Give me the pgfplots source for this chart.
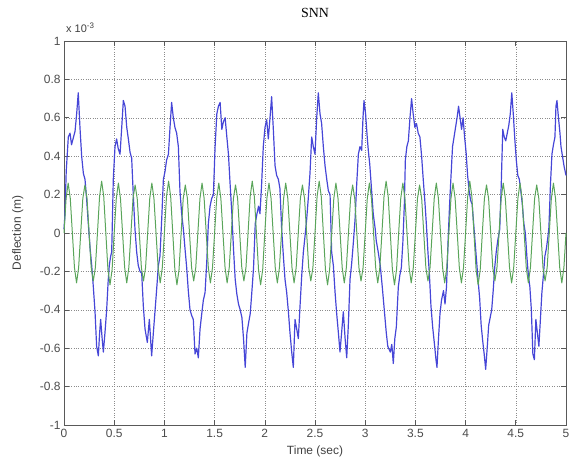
\documentclass[border=0pt]{standalone}
\usepackage{pgfplots}
\pgfplotsset{compat=1.18}
\usepackage{fontspec}
\setmainfont{Liberation Sans}
\newfontfamily\seriffont{Liberation Serif}
\definecolor{mblue}{RGB}{70,70,215}
\definecolor{mgreen}{RGB}{90,165,90}
\begin{document}
\begin{tikzpicture}
\useasboundingbox (-64bp,-41bp) rectangle (506bp,425bp);
\begin{axis}[
  at={(0,0)}, anchor=south west,
  scale only axis, width=502bp, height=384bp,
  xmin=0, xmax=5, ymin=-1, ymax=1, clip=false,
  xtick={0,0.5,1,1.5,2,2.5,3,3.5,4,4.5,5},
  xticklabels={0,0.5,1,1.5,2,2.5,3,3.5,4,4.5,5},
  ytick={-1,-0.8,-0.6,-0.4,-0.2,0,0.2,0.4,0.6,0.8,1},
  yticklabels={-1,-0.8,-0.6,-0.4,-0.2,0,0.2,0.4,0.6,0.8,1},
  tick align=inside, xtick pos=both, ytick pos=both,
  xticklabel pos=left, yticklabel pos=left,
  major tick length=5bp,
  grid=major, grid style={dotted, black!45, line width=0.45pt},
  axis line style={black!65, line width=0.9pt},
  tick style={black!65, line width=0.6pt},
  tick label style={font=\fontsize{12}{14}\selectfont, text=black!70},
  xticklabel style={yshift=-1bp},
  xlabel={Time (sec)}, ylabel={Deflection (m)},
  label style={font=\fontsize{12}{14}\selectfont, text=black!75},
  xlabel style={at={(axis description cs:0.5,-0.07)}, anchor=center},
  ylabel style={at={(axis description cs:-0.092,0.5)}, anchor=center, rotate=0},
  title={\seriffont SNN},
  title style={at={(axis description cs:0.5,1.058)}, anchor=center, font=\fontsize{14}{16}\selectfont},
]
\addplot[mblue, line width=1.2pt, line join=round] coordinates {
(0.000,0.02) (0.010,0.10) (0.022,0.32) (0.043,0.50) (0.060,0.52) (0.075,0.46) (0.095,0.50) (0.110,0.53) (0.126,0.62) (0.142,0.73) (0.159,0.55) (0.176,0.40) (0.193,0.31) (0.209,0.28) (0.225,0.18) (0.242,0.05) (0.260,-0.08) (0.276,-0.17) (0.292,-0.28) (0.309,-0.41) (0.325,-0.59) (0.342,-0.64) (0.355,-0.52) (0.365,-0.45) (0.380,-0.55) (0.392,-0.62) (0.408,-0.52) (0.425,-0.40) (0.440,-0.25) (0.451,-0.17) (0.465,-0.12) (0.475,-0.10) (0.491,0.28)
(0.508,0.45) (0.524,0.49) (0.540,0.44) (0.558,0.41) (0.575,0.55) (0.591,0.69) (0.608,0.66) (0.625,0.55) (0.641,0.49) (0.658,0.42) (0.674,0.39) (0.690,0.20) (0.707,0.02) (0.724,-0.10) (0.740,-0.17) (0.757,-0.20) (0.774,-0.21) (0.790,-0.38) (0.807,-0.50) (0.830,-0.57) (0.850,-0.45) (0.873,-0.64) (0.890,-0.52) (0.906,-0.41) (0.922,-0.30) (0.940,-0.17) (0.956,-0.12) (0.973,0.07) (0.990,0.28)
(1.006,0.32) (1.022,0.38) (1.040,0.41) (1.056,0.55) (1.072,0.68) (1.089,0.60) (1.105,0.55) (1.122,0.52) (1.139,0.45) (1.155,0.22) (1.172,0.10) (1.189,0.02) (1.205,-0.08) (1.222,-0.18) (1.238,-0.30) (1.255,-0.40) (1.272,-0.43) (1.288,-0.45) (1.305,-0.63) (1.322,-0.60) (1.338,-0.65) (1.355,-0.50) (1.372,-0.42) (1.388,-0.35) (1.405,-0.31) (1.422,-0.15) (1.438,0.05) (1.455,0.14) (1.471,0.18) (1.488,0.20)
(1.505,0.45) (1.522,0.62) (1.538,0.66) (1.555,0.68) (1.572,0.54) (1.588,0.58) (1.605,0.60) (1.622,0.50) (1.638,0.41) (1.655,0.25) (1.672,0.10) (1.688,-0.08) (1.705,-0.24) (1.722,-0.32) (1.738,-0.37) (1.755,-0.40) (1.772,-0.44) (1.788,-0.55) (1.805,-0.70) (1.822,-0.52) (1.838,-0.47) (1.855,-0.42) (1.872,-0.30) (1.888,-0.18) (1.905,0.05) (1.922,0.10) (1.938,0.14)
(1.952,0.10) (1.968,0.25) (1.985,0.45) (2.002,0.55) (2.019,0.59) (2.035,0.49) (2.052,0.60) (2.068,0.71) (2.085,0.54) (2.102,0.35) (2.118,0.30) (2.135,0.28) (2.151,0.23) (2.168,0.02) (2.185,-0.12) (2.201,-0.24) (2.218,-0.31) (2.235,-0.41) (2.251,-0.52) (2.268,-0.62) (2.284,-0.70) (2.301,-0.45) (2.318,-0.50) (2.334,-0.55) (2.351,-0.38) (2.368,-0.22) (2.384,-0.10) (2.400,-0.02) (2.417,0.07) (2.433,0.18)
(2.450,0.31) (2.467,0.50) (2.483,0.45) (2.500,0.41) (2.517,0.60) (2.533,0.73) (2.550,0.62) (2.566,0.57) (2.583,0.45) (2.600,0.35) (2.617,0.28) (2.633,0.22) (2.650,0.20) (2.666,-0.10) (2.683,-0.17) (2.700,-0.31) (2.716,-0.42) (2.733,-0.52) (2.749,-0.62) (2.765,-0.52) (2.782,-0.41) (2.800,-0.55) (2.816,-0.65) (2.832,-0.48) (2.849,-0.24) (2.865,-0.16) (2.882,-0.05) (2.899,0.07) (2.915,0.25)
(2.932,0.41) (2.948,0.45) (2.965,0.43) (2.978,0.60) (2.988,0.69) (3.004,0.62) (3.020,0.50) (3.031,0.43) (3.045,0.36) (3.060,0.25) (3.080,0.10) (3.100,0.02) (3.110,-0.04) (3.130,-0.10) (3.150,-0.17) (3.170,-0.28) (3.190,-0.40) (3.210,-0.52) (3.225,-0.59) (3.250,-0.62) (3.265,-0.58) (3.280,-0.68) (3.295,-0.55) (3.310,-0.49) (3.330,-0.28) (3.345,-0.22) (3.360,-0.18) (3.375,-0.05)
(3.390,0.15) (3.400,0.38) (3.415,0.45) (3.430,0.48) (3.446,0.60) (3.462,0.70) (3.478,0.62) (3.495,0.55) (3.511,0.57) (3.528,0.52) (3.545,0.50) (3.562,0.40) (3.578,0.28) (3.595,0.16) (3.610,0.04) (3.625,-0.10) (3.640,-0.22) (3.655,-0.38) (3.672,-0.49) (3.690,-0.58) (3.705,-0.66) (3.715,-0.70) (3.730,-0.55) (3.745,-0.42) (3.760,-0.35) (3.780,-0.30) (3.795,-0.37) (3.810,-0.28) (3.825,-0.05) (3.840,0.14)
(3.855,0.30) (3.870,0.45) (3.885,0.50) (3.900,0.55) (3.915,0.60) (3.930,0.66) (3.945,0.60) (3.960,0.54) (3.975,0.60) (3.990,0.50) (4.005,0.42) (4.020,0.30) (4.035,0.22) (4.050,0.17) (4.065,0.15) (4.080,0.05) (4.095,-0.05) (4.110,-0.15) (4.125,-0.25) (4.140,-0.34) (4.155,-0.48) (4.170,-0.56) (4.185,-0.63) (4.200,-0.71) (4.215,-0.60) (4.230,-0.48) (4.245,-0.44) (4.260,-0.40) (4.275,-0.30) (4.290,-0.18) (4.305,-0.10) (4.320,-0.04) (4.340,0.02)
(4.355,0.25) (4.370,0.54) (4.385,0.50) (4.400,0.48) (4.415,0.52) (4.430,0.56) (4.445,0.62) (4.460,0.73) (4.475,0.62) (4.490,0.49) (4.505,0.38) (4.520,0.30) (4.535,0.28) (4.550,0.22) (4.565,0.15) (4.580,0.05) (4.595,0.00) (4.610,-0.12) (4.625,-0.22) (4.640,-0.28) (4.655,-0.40) (4.670,-0.63) (4.685,-0.66) (4.700,-0.45) (4.715,-0.52) (4.730,-0.59) (4.745,-0.45) (4.760,-0.31) (4.775,-0.22) (4.790,-0.12) (4.805,-0.08) (4.820,-0.02) (4.830,0.03)
(4.845,0.25) (4.860,0.41) (4.875,0.46) (4.890,0.50) (4.900,0.66) (4.910,0.69) (4.925,0.60) (4.940,0.52) (4.950,0.45) (4.965,0.40) (4.980,0.35) (5.000,0.30)
};
\addplot[mgreen, line width=1pt, line join=round] coordinates {
(0.0000,0) (0.0208,0.18) (0.0417,0.26) (0.0625,0.18) (0.0833,0) (0.1042,-0.18) (0.1250,-0.26) (0.1458,-0.18)
(0.1667,0) (0.1875,0.18) (0.2083,0.25) (0.2292,0.18) (0.2500,0) (0.2708,-0.18) (0.2917,-0.25) (0.3125,-0.18)
(0.3333,0) (0.3542,0.19) (0.3750,0.27) (0.3958,0.19) (0.4167,0) (0.4375,-0.19) (0.4583,-0.27) (0.4792,-0.19)
(0.5000,0) (0.5208,0.18) (0.5417,0.26) (0.5625,0.18) (0.5833,0) (0.6042,-0.18) (0.6250,-0.26) (0.6458,-0.18)
(0.6667,0) (0.6875,0.18) (0.7083,0.25) (0.7292,0.18) (0.7500,0) (0.7708,-0.18) (0.7917,-0.25) (0.8125,-0.18)
(0.8333,0) (0.8542,0.18) (0.8750,0.26) (0.8958,0.18) (0.9167,0) (0.9375,-0.18) (0.9583,-0.26) (0.9792,-0.18)
(1.0000,0) (1.0208,0.19) (1.0417,0.27) (1.0625,0.19) (1.0833,0) (1.1042,-0.19) (1.1250,-0.27) (1.1458,-0.19)
(1.1667,0) (1.1875,0.18) (1.2083,0.25) (1.2292,0.18) (1.2500,0) (1.2708,-0.18) (1.2917,-0.25) (1.3125,-0.18)
(1.3333,0) (1.3542,0.18) (1.3750,0.26) (1.3958,0.18) (1.4167,0) (1.4375,-0.18) (1.4583,-0.26) (1.4792,-0.18)
(1.5000,0) (1.5208,0.18) (1.5417,0.26) (1.5625,0.18) (1.5833,0) (1.6042,-0.18) (1.6250,-0.26) (1.6458,-0.18)
(1.6667,0) (1.6875,0.18) (1.7083,0.25) (1.7292,0.18) (1.7500,0) (1.7708,-0.18) (1.7917,-0.25) (1.8125,-0.18)
(1.8333,0) (1.8542,0.19) (1.8750,0.27) (1.8958,0.19) (1.9167,0) (1.9375,-0.19) (1.9583,-0.27) (1.9792,-0.19)
(2.0000,0) (2.0208,0.18) (2.0417,0.26) (2.0625,0.18) (2.0833,0) (2.1042,-0.18) (2.1250,-0.26) (2.1458,-0.18)
(2.1667,0) (2.1875,0.18) (2.2083,0.26) (2.2292,0.18) (2.2500,0) (2.2708,-0.18) (2.2917,-0.26) (2.3125,-0.18)
(2.3333,0) (2.3542,0.18) (2.3750,0.25) (2.3958,0.18) (2.4167,0) (2.4375,-0.18) (2.4583,-0.25) (2.4792,-0.18)
(2.5000,0) (2.5208,0.19) (2.5417,0.27) (2.5625,0.19) (2.5833,0) (2.6042,-0.19) (2.6250,-0.27) (2.6458,-0.19)
(2.6667,0) (2.6875,0.18) (2.7083,0.26) (2.7292,0.18) (2.7500,0) (2.7708,-0.18) (2.7917,-0.26) (2.8125,-0.18)
(2.8333,0) (2.8542,0.18) (2.8750,0.25) (2.8958,0.18) (2.9167,0) (2.9375,-0.18) (2.9583,-0.25) (2.9792,-0.18)
(3.0000,0) (3.0208,0.18) (3.0417,0.26) (3.0625,0.18) (3.0833,0) (3.1042,-0.18) (3.1250,-0.26) (3.1458,-0.18)
(3.1667,0) (3.1875,0.19) (3.2083,0.27) (3.2292,0.19) (3.2500,0) (3.2708,-0.19) (3.2917,-0.27) (3.3125,-0.19)
(3.3333,0) (3.3542,0.18) (3.3750,0.26) (3.3958,0.18) (3.4167,0) (3.4375,-0.18) (3.4583,-0.26) (3.4792,-0.18)
(3.5000,0) (3.5208,0.18) (3.5417,0.25) (3.5625,0.18) (3.5833,0) (3.6042,-0.18) (3.6250,-0.25) (3.6458,-0.18)
(3.6667,0) (3.6875,0.18) (3.7083,0.26) (3.7292,0.18) (3.7500,0) (3.7708,-0.18) (3.7917,-0.26) (3.8125,-0.18)
(3.8333,0) (3.8542,0.18) (3.8750,0.26) (3.8958,0.18) (3.9167,0) (3.9375,-0.18) (3.9583,-0.26) (3.9792,-0.18)
(4.0000,0) (4.0208,0.19) (4.0417,0.27) (4.0625,0.19) (4.0833,0) (4.1042,-0.19) (4.1250,-0.27) (4.1458,-0.19)
(4.1667,0) (4.1875,0.18) (4.2083,0.25) (4.2292,0.18) (4.2500,0) (4.2708,-0.18) (4.2917,-0.25) (4.3125,-0.18)
(4.3333,0) (4.3542,0.18) (4.3750,0.26) (4.3958,0.18) (4.4167,0) (4.4375,-0.18) (4.4583,-0.26) (4.4792,-0.18)
(4.5000,0) (4.5208,0.18) (4.5417,0.26) (4.5625,0.18) (4.5833,0) (4.6042,-0.18) (4.6250,-0.26) (4.6458,-0.18)
(4.6667,0) (4.6875,0.18) (4.7083,0.25) (4.7292,0.18) (4.7500,0) (4.7708,-0.18) (4.7917,-0.25) (4.8125,-0.18)
(4.8333,0) (4.8542,0.18) (4.8750,0.26) (4.8958,0.18) (4.9167,0) (4.9375,-0.18) (4.9583,-0.26) (4.9792,-0.18)
(5.0000,0)
};
\node[anchor=base west, font=\fontsize{11}{13}\selectfont, text=black!75, inner sep=0pt] at (axis description cs:0.004,1.022) {x 10\raisebox{0.65ex}{\fontsize{8}{9}\selectfont -3}};
\end{axis}
\end{tikzpicture}
\end{document}
